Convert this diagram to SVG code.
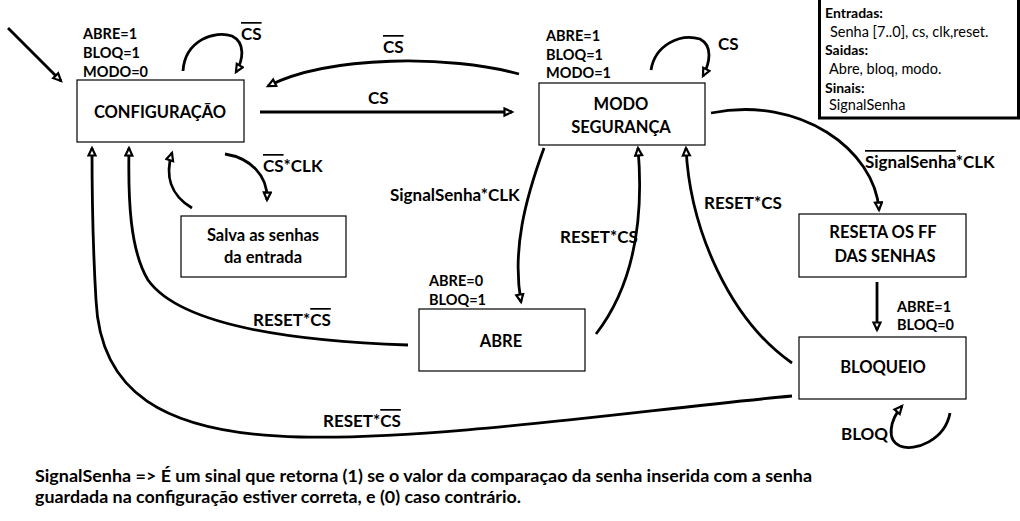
<svg xmlns="http://www.w3.org/2000/svg" width="1020" height="521" viewBox="0 0 1020 521">
<defs>
<marker id="ah" markerUnits="userSpaceOnUse" markerWidth="14" markerHeight="14" refX="9" refY="5" orient="auto">
<path d="M1.5,1.5 L9,5 L1.5,8.5 Z" fill="#fff" stroke="#000" stroke-width="2.2" stroke-linejoin="miter"/>
</marker>
<style>
.box{fill:#fff;stroke:#000;stroke-width:1.2}
.c{fill:none;stroke:#000;stroke-width:2.8;marker-end:url(#ah)}
text{font-family:Lato,"Open Sans","Liberation Sans",sans-serif;font-weight:bold;fill:#000}
.n{font-size:16.5px;text-anchor:middle}
.l{font-size:17px}
.s{font-size:14.5px}
.h{font-size:14px}
.g{font-size:14.5px;font-weight:normal}
.o{text-decoration:overline}
</style>
</defs>
<rect width="1020" height="521" fill="#fff"/>

<g id="connectors">
<path class="c" d="M8,28 L61,81"/>
<path class="c" d="M183,71 C185,40 215,30 232,36 C246,43 243,60 236,72"/>
<path class="c" d="M260,112 L512,112"/>
<path class="c" d="M519,74 C450,55 330,55 268,86"/>
<path class="c" d="M651,70 C655,45 680,33 700,39 C713,46 710,62 703,76"/>
<path class="c" d="M711,113 C800,95 875,150 879,210"/>
<path class="c" d="M877,282 L877,330"/>
<path class="c" d="M950,413 C945,440 915,452 900,446 C886,440 890,420 902,406"/>
<path class="c" d="M792,363 C730,320 690,230 686,148"/>
<path class="c" d="M792,396 C640,410 440,440 300,437 C160,434 100,390 96,300 C93,250 92,200 92,148"/>
<path class="c" d="M544,148 C525,200 512,250 521,302"/>
<path class="c" d="M596,334 C630,290 645,230 638,148"/>
<path class="c" d="M408,345 C260,340 175,318 148,280 C130,250 128,200 129,148"/>
<path class="c" d="M225,154 C250,158 268,175 267,200"/>
<path class="c" d="M192,208 C170,195 165,175 172,153"/>
</g>

<g id="labels">
<text class="l" x="241" y="40"><tspan class="o">CS</tspan></text>
<text class="l" x="368" y="104">CS</text>
<text class="l" x="383" y="53"><tspan class="o">CS</tspan></text>
<text class="l" x="718" y="50">CS</text>
<text class="l" x="865" y="168"><tspan class="o">SignalSenha</tspan>*CLK</text>
<text class="l" x="263" y="172"><tspan class="o">CS</tspan>*CLK</text>
<text class="l" x="390" y="201">SignalSenha*CLK</text>
<text class="l" x="560" y="243">RESET*CS</text>
<text class="l" x="704" y="209">RESET*CS</text>
<text class="l" x="253" y="326">RESET*<tspan class="o">CS</tspan></text>
<text class="l" x="323" y="427">RESET*<tspan class="o">CS</tspan></text>
<text class="l" x="841" y="440">BLOQ</text>
<text class="s" x="83" y="39">ABRE=1</text>
<text class="s" x="83" y="58">BLOQ=1</text>
<text class="s" x="83" y="77">MODO=0</text>
<text class="s" x="546" y="41">ABRE=1</text>
<text class="s" x="546" y="60">BLOQ=1</text>
<text class="s" x="546" y="78">MODO=1</text>
<text class="s" x="429" y="286">ABRE=0</text>
<text class="s" x="429" y="305">BLOQ=1</text>
<text class="s" x="897" y="312">ABRE=1</text>
<text class="s" x="897" y="330">BLOQ=0</text>
</g>

<g id="configuracao">
<rect class="box" x="77" y="80" width="167" height="62"/>
<text class="n" x="160" y="118">CONFIGURAÇÃO</text>
</g>
<g id="modo-seguranca">
<rect class="box" x="539" y="83" width="166" height="62"/>
<text class="n" x="621" y="110">MODO</text>
<text class="n" x="621" y="133">SEGURANÇA</text>
</g>
<g id="salva">
<rect class="box" x="181" y="216" width="165" height="61"/>
<text class="n" x="263" y="241">Salva as senhas</text>
<text class="n" x="263" y="263">da entrada</text>
</g>
<g id="abre">
<rect class="box" x="419" y="309" width="166" height="62"/>
<text class="n" x="501" y="347">ABRE</text>
</g>
<g id="reseta">
<rect class="box" x="799" y="214" width="167" height="63"/>
<text class="n" x="883" y="238">RESETA OS FF</text>
<text class="n" x="885" y="262">DAS SENHAS</text>
</g>
<g id="bloqueio">
<rect class="box" x="799" y="337" width="167" height="62"/>
<text class="n" x="883" y="373">BLOQUEIO</text>
</g>

<g id="legenda">
<rect x="819.5" y="-3" width="199" height="121" fill="#fff" stroke="#000" stroke-width="3"/>
<text class="h" x="825" y="18">Entradas:</text>
<text class="g" x="830" y="37">Senha [7..0], cs, clk,reset.</text>
<text class="h" x="825" y="55">Saidas:</text>
<text class="g" x="829" y="74">Abre, bloq, modo.</text>
<text class="h" x="825" y="93">Sinais:</text>
<text class="g" x="829" y="110">SignalSenha</text>
</g>

<g id="nota">
<text class="l" x="35" y="482" textLength="777" lengthAdjust="spacingAndGlyphs">SignalSenha  =&gt;  É um sinal que retorna (1) se o valor da comparaçao da senha inserida com a senha</text>
<text class="l" x="35" y="503" textLength="486" lengthAdjust="spacingAndGlyphs">guardada na configuração estiver correta, e (0) caso contrário.</text>
</g>
</svg>
